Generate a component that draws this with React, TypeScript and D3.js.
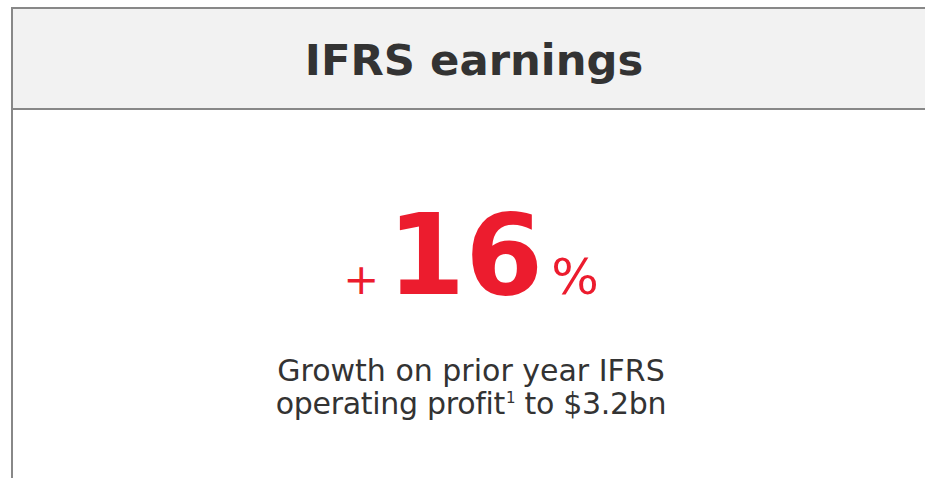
import React from "react";
import * as d3 from "d3";

const titles = ["IFRS earnings"];
const values = [16];
const prefixes = ["+"];
const suffixes = ["%"];
const captionLines = ["Growth on prior year IFRS", "operating profit"];
const captionTail = [" to $3.2bn"];
const footnotes = ["1"];

const W = 925;
const H = 478;

export default function App() {
  const fmt = d3.format("d");
  const x = d3.scaleLinear().domain([0, 1]).range([12, W + 20]);
  return (
    <svg width={W} height={H} style={{ position: "absolute", left: 0, top: 0 }} fontFamily="DejaVu Sans, Verdana, sans-serif">
      <rect x={0} y={0} width={W} height={H} fill="#fff" />
      <rect x={x(0)} y={8} width={x(1) - x(0)} height={101} fill="#f2f2f2" stroke="#888" strokeWidth={2} />
      <line x1={x(0)} x2={x(0)} y1={109} y2={H} stroke="#888" strokeWidth={2} />
      <text x={474} y={75} textAnchor="middle" fontSize={43.3} fontWeight="bold" fill="#333">{titles[0]}</text>
      <text x={471} y={294} textAnchor="middle" fill="#ec1c2e">
        <tspan fontSize={43}>{prefixes[0]}</tspan>
        <tspan fontSize={112} fontWeight="bold" dx={8}>{fmt(values[0])}</tspan>
        <tspan fontSize={50} dx={8}>{suffixes[0]}</tspan>
      </text>
      <text x={471} y={381} textAnchor="middle" fontSize={30} fill="#333">{captionLines[0]}</text>
      <text x={471} y={414} textAnchor="middle" fontSize={30} fill="#333" letterSpacing={-0.3}>
        <tspan>{captionLines[1]}</tspan>
        <tspan fontSize={15} dx={1} dy={-11}>{footnotes[0]}</tspan>
        <tspan dy={11}>{captionTail[0]}</tspan>
      </text>
    </svg>
  );
}
